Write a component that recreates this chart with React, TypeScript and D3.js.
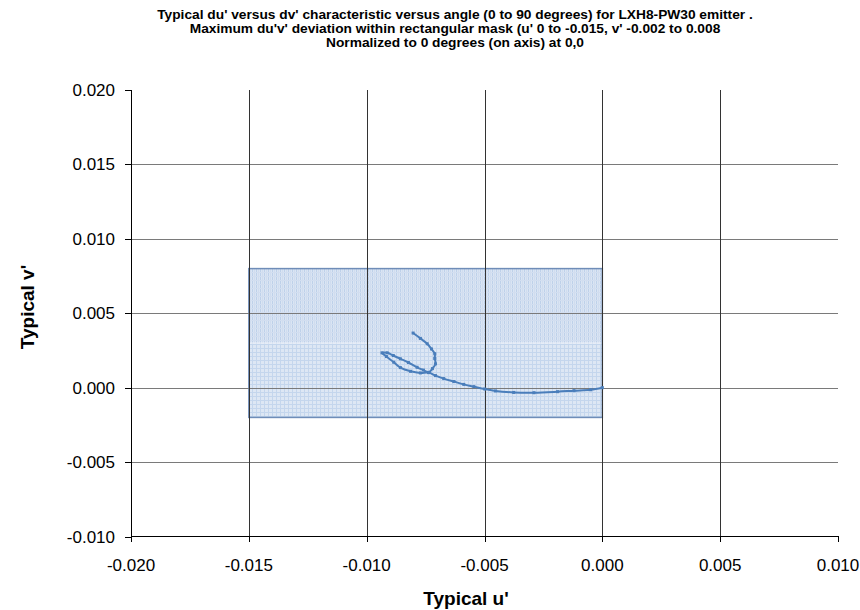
import React from "react";
import * as d3 from "d3";

const titleLines = [
  "Typical du' versus dv' characteristic versus angle (0 to 90 degrees) for LXH8-PW30 emitter .",
  "Maximum du'v' deviation within rectangular mask (u' 0 to -0.015, v' -0.002 to 0.008",
  "Normalized to 0 degrees (on axis) at 0,0",
];
const xTicks = [-0.02, -0.015, -0.01, -0.005, 0, 0.005, 0.01];
const yTicks = [-0.01, -0.005, 0, 0.005, 0.01, 0.015, 0.02];
const maskU = [-0.015, 0];
const maskV = [-0.002, 0.008];
const maskSplitV = 0.003;
const curveU = [
  0, -0.0005, -0.0012, -0.0019, -0.0029, -0.00376, -0.00453, -0.00499, -0.00545, -0.00588,
  -0.0063, -0.00673, -0.00708, -0.00737, -0.00772, -0.00814, -0.00857, -0.00885, -0.00916,
  -0.00935, -0.00913, -0.00887, -0.00857, -0.00823, -0.00786, -0.00759, -0.00737, -0.00721,
  -0.00708, -0.00711, -0.00711, -0.00725, -0.00743, -0.00772, -0.00803,
];
const curveV = [
  0, -0.00014, -0.0002, -0.00027, -0.00034, -0.00032, -0.00022, -0.00009, 0.00007, 0.00022,
  0.00041, 0.00061, 0.00081, 0.00101, 0.00099, 0.0011, 0.00135, 0.00171, 0.00209,
  0.00234, 0.00234, 0.00216, 0.00194, 0.00169, 0.00137, 0.00118, 0.00103, 0.00128,
  0.0016, 0.00196, 0.00228, 0.0026, 0.00295, 0.00331, 0.00367,
];

export default function App() {
  const W = 860, H = 610;
  const x = d3.scaleLinear().domain([-0.02, 0.01]).range([131, 838]);
  const y = d3.scaleLinear().domain([-0.01, 0.02]).range([536.5, 90]);
  const pts: [number, number][] = curveU.map((u, i) => [x(u), y(curveV[i])]);
  const line = d3.line().curve(d3.curveCatmullRom.alpha(0.5))(pts) || "";
  const font = "Arial, 'Liberation Sans', sans-serif";
  const fmt = (v: number) => d3.format(".3f")(v).replace("−", "-");
  const mx0 = x(maskU[0]), mx1 = x(maskU[1]);
  const my0 = y(maskV[1]), my1 = y(maskV[0]), mys = y(maskSplitV);
  return (
    <svg width={W} height={H} style={{ position: "absolute", left: 0, top: 0 }} fontFamily={font}>
      <defs>
        <pattern id="maskA" width="4" height="4" patternUnits="userSpaceOnUse">
          <rect width="4" height="4" fill="#dae5f3" />
          <rect x="0" y="0" width="1" height="4" fill="#bed1ea" />
          <rect x="2" y="0" width="1" height="4" fill="#cfdcef" />
          <rect x="0" y="0" width="4" height="1" fill="#d2def0" />
        </pattern>
        <pattern id="maskB" width="4" height="4" patternUnits="userSpaceOnUse">
          <rect width="4" height="4" fill="#dde7f4" />
          <rect x="0" y="0" width="1" height="4" fill="#c4d6ed" />
          <rect x="0" y="0" width="4" height="1" fill="#c4d6ed" />
        </pattern>
      </defs>
      <rect width={W} height={H} fill="#fff" />
      {titleLines.map((t, i) => (
        <text
          key={i}
          transform={`translate(455,${19 + i * 14}) scale(1.1,1)`}
          textAnchor="middle"
          fontSize={12.5}
          fontWeight="bold"
        >
          {t}
        </text>
      ))}
      {/* mask */}
      <rect x={mx0} y={my0} width={mx1 - mx0} height={mys - my0} fill="url(#maskA)" />
      <rect x={mx0} y={mys} width={mx1 - mx0} height={my1 - mys} fill="url(#maskB)" />
      <line x1={mx0} x2={mx1} y1={mys} y2={mys} stroke="#eef3fa" strokeWidth={1} />
      <rect x={mx0} y={my0} width={mx1 - mx0} height={my1 - my0} fill="none" stroke="#6f8db8" strokeWidth={1.5} />
      {/* gridlines */}
      {yTicks.filter((v) => v > -0.01 && v < 0.02).map((v) => (
        <line key={"gy" + v} x1={131} x2={838} y1={Math.round(y(v)) + 0.5} y2={Math.round(y(v)) + 0.5} stroke="#7a7a7a" strokeWidth={1} />
      ))}
      {xTicks.filter((v) => v > -0.02 && v < 0.01).map((v) => (
        <line key={"gx" + v} y1={90} y2={536} x1={Math.round(x(v)) + 0.5} x2={Math.round(x(v)) + 0.5} stroke="#333" strokeWidth={1} />
      ))}
      {/* axes */}
      <line x1={131.5} x2={131.5} y1={90} y2={537} stroke="#000" />
      <line x1={131} x2={838} y1={536.5} y2={536.5} stroke="#000" />
      {yTicks.map((v) => (
        <g key={"ty" + v}>
          <line x1={125} x2={131} y1={Math.round(y(v)) + 0.5} y2={Math.round(y(v)) + 0.5} stroke="#000" />
          <text x={115} y={y(v) + 6} textAnchor="end" fontSize={17}>
            {fmt(v)}
          </text>
        </g>
      ))}
      {xTicks.map((v) => (
        <g key={"tx" + v}>
          <line y1={536} y2={542} x1={Math.round(x(v)) + 0.5} x2={Math.round(x(v)) + 0.5} stroke="#000" />
          <text x={x(v)} y={571} textAnchor="middle" fontSize={17}>
            {fmt(v)}
          </text>
        </g>
      ))}
      {/* curve */}
      <path d={line} fill="none" stroke="#4a7ebb" strokeWidth={2} strokeLinejoin="round" />
      {pts.map((p, i) => (
        <rect key={"m" + i} x={p[0] - 1.5} y={p[1] - 1.5} width={3} height={3} fill="#4a7ebb" />
      ))}
      <text x={466} y={605} textAnchor="middle" fontSize={19} fontWeight="bold">
        Typical u'
      </text>
      <text transform={`translate(33.5,307) rotate(-90)`} textAnchor="middle" fontSize={19} fontWeight="bold">
        Typical v'
      </text>
    </svg>
  );
}
